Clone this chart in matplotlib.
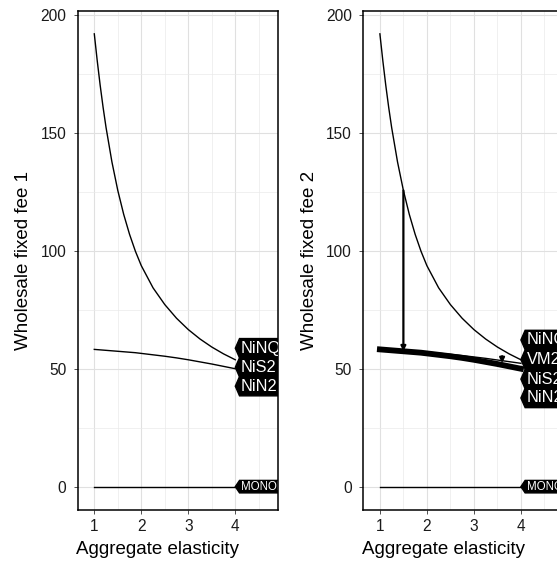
import matplotlib
matplotlib.use('Agg')
import matplotlib.pyplot as plt
import numpy as np

plt.rcParams['font.family'] = ['Liberation Sans', 'DejaVu Sans']

# aggregate elasticity grid
elast = [1.0, 1.0625, 1.125, 1.1875, 1.25, 1.375, 1.5, 1.625, 1.75, 1.875, 2.0, 2.25,
         2.5, 2.75, 3.0, 3.25, 3.5, 3.75, 4.0]

# fixed fee curves read per elasticity value
fee_ninq = [192, 180.6, 170.2, 160.8, 152.3, 137.7, 125.6, 115.5, 107.0, 99.8, 93.7, 84.3,
            77.2, 71.4, 66.6, 62.6, 59.2, 56.3, 53.8]
fee_nis2 = [58.2, 58.1, 58.0, 57.9, 57.8, 57.6, 57.4, 57.2, 57.0, 56.8, 56.5, 55.9,
            55.3, 54.6, 53.8, 52.9, 52.0, 51.0, 50.0]
fee_vm2 = [58.6, 58.5, 58.4, 58.35, 58.3, 58.1, 57.9, 57.7, 57.5, 57.3, 57.1, 56.6,
           56.1, 55.6, 55.0, 54.4, 53.7, 53.0, 52.3]
fee_monop = [0] * len(elast)

labels_1 = ['NiNQ', 'NiS2', 'NiN2']
label_y_1 = [58.7, 50.6, 42.6]
labels_2 = ['NiNQ', 'VM2', 'NiS2', 'NiN2']
label_y_2 = [62.2, 53.9, 45.6, 37.6]

# arrows: (x, from, to)
arrows_2 = [(1.5, 125.6, 57.4), (3.6, 55.3, 52.4)]


def style_panel(ax, ylabel):
    ax.set_xlim(0.647, 4.915)
    ax.set_ylim(-9.9, 201.9)
    ax.set_xticks([1, 2, 3, 4])
    ax.set_xticks([1.5, 2.5, 3.5, 4.5], minor=True)
    ax.set_yticks([0, 50, 100, 150, 200])
    ax.set_yticks([25, 75, 125, 175], minor=True)
    ax.grid(which='major', color='#e0e0e0', lw=0.8, zorder=0)
    ax.grid(which='minor', color='#eaeaea', lw=0.5, zorder=0)
    ax.set_axisbelow(True)
    for s in ax.spines.values():
        s.set_linewidth(1.1)
        s.set_color('black')
    ax.tick_params(which='major', length=3.2, width=0.6, color='#333333',
                   labelsize=11.2, labelcolor='#1a1a1a', pad=3.5)
    ax.tick_params(axis='y', which='major', pad=5)
    ax.tick_params(which='minor', length=0)
    ax.set_xlabel('Aggregate elasticity', fontsize=13.5)
    ax.xaxis.set_label_coords(0.40, -0.062)
    ax.set_ylabel(ylabel, fontsize=13.5, labelpad=6)


def poly_label(ax, x, y, text, h=8.2, fs=11.8):
    # pointed label box running off the right of the panel
    xs = [x, x + 0.09, 6.0, 6.0, x + 0.09]
    ys = [y, y + h / 2, y + h / 2, y - h / 2, y - h / 2]
    ax.fill(xs, ys, color='black', zorder=4, clip_on=True)
    t = ax.text(x + 0.12, y, text, color='white', fontsize=fs, va='center',
                ha='left', zorder=5, clip_on=True)
    t.set_clip_box(ax.bbox)


fig = plt.figure(figsize=(5.57, 5.65), dpi=100)
ax1 = fig.add_axes([77.7 / 557, 55 / 565, 200.6 / 557, 499.5 / 565])
ax2 = fig.add_axes([363.3 / 557, 55 / 565, 200.6 / 557, 499.5 / 565])

# left panel
ax1.plot(elast, fee_ninq, color='black', lw=1.0, zorder=3)
ax1.plot(elast, fee_nis2, color='black', lw=1.0, zorder=3)
ax1.plot(elast, fee_monop, color='black', lw=1.0, zorder=3)
for t, y in zip(labels_1, label_y_1):
    poly_label(ax1, 4.0, y, t)
poly_label(ax1, 4.0, 0, 'MONOP', h=5.3, fs=8.3)
style_panel(ax1, 'Wholesale fixed fee 1')

# right panel
ax2.plot(elast, fee_ninq, color='black', lw=1.0, zorder=3)
ax2.plot(elast, fee_vm2, color='black', lw=1.0, zorder=3)
ax2.plot(elast, fee_nis2, color='black', lw=4.2, zorder=3)
ax2.plot(elast, fee_monop, color='black', lw=1.0, zorder=3)
for x, y0, y1 in arrows_2:
    ax2.annotate('', xy=(x, y1), xytext=(x, y0),
                 arrowprops=dict(arrowstyle='-|>', lw=1.6, color='black',
                                 mutation_scale=7, shrinkA=0, shrinkB=0),
                 zorder=3)
for t, y in zip(labels_2, label_y_2):
    poly_label(ax2, 4.0, y, t)
poly_label(ax2, 4.0, 0, 'MONOP', h=5.3, fs=8.3)
style_panel(ax2, 'Wholesale fixed fee 2')

fig.savefig('out.png', dpi=100)
